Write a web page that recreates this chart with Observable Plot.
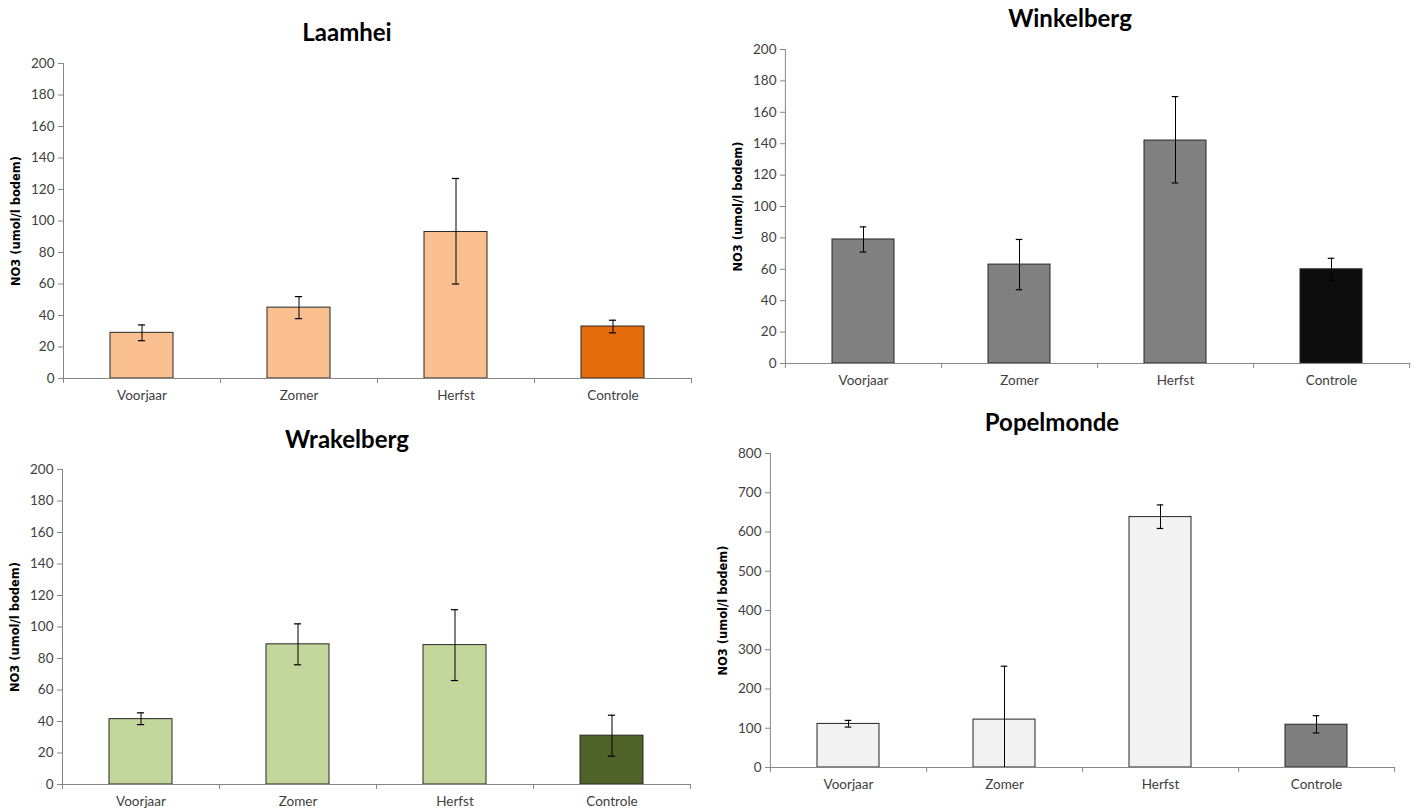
<!DOCTYPE html>
<html>
<head>
<meta charset="utf-8">
<script src="https://cdn.jsdelivr.net/npm/d3@7"></script>
<script src="https://cdn.jsdelivr.net/npm/@observablehq/plot@0.6"></script>
<style>
  html, body { margin: 0; padding: 0; background: #fff; }
  #root { position: relative; width: 1419px; height: 810px; overflow: hidden; background: #fff; }
  .panel { position: absolute; }
  .title { position: absolute; font-family: Lato, "Open Sans", sans-serif; font-weight: bold; font-size: 24px; color: #000; transform: translate(-50%, -50%); white-space: nowrap; }
</style>
</head>
<body>
<div id="root"></div>
<script>
// ---- data ----
const categories = ["Voorjaar", "Zomer", "Herfst", "Controle"];
const yLabel = "NO3 (umol/l bodem)";

const laamheiTitle = "Laamhei";
const laamheiValues = [29, 45, 93, 33];
const laamheiLow = [24, 38, 60, 29];
const laamheiHigh = [34, 52, 127, 37];
const laamheiTicks = [0, 20, 40, 60, 80, 100, 120, 140, 160, 180, 200];
const laamheiColors = ["#FAC090", "#FAC090", "#FAC090", "#E46C0A"];

const winkelbergTitle = "Winkelberg";
const winkelbergValues = [79, 63, 142, 60];
const winkelbergLow = [71, 47, 115, 53];
const winkelbergHigh = [87, 79, 170, 67];
const winkelbergTicks = [0, 20, 40, 60, 80, 100, 120, 140, 160, 180, 200];
const winkelbergColors = ["#808080", "#808080", "#808080", "#0D0D0D"];

const wrakelbergTitle = "Wrakelberg";
const wrakelbergValues = [41.5, 89, 88.5, 31];
const wrakelbergLow = [38, 76, 66, 18];
const wrakelbergHigh = [45.5, 102, 111, 44];
const wrakelbergTicks = [0, 20, 40, 60, 80, 100, 120, 140, 160, 180, 200];
const wrakelbergColors = ["#C3D69B", "#C3D69B", "#C3D69B", "#4F6228"];

const popelmondeTitle = "Popelmonde";
const popelmondeValues = [111, 122, 638, 109];
const popelmondeLow = [103, 0, 609, 88];
const popelmondeHigh = [120, 258, 669, 132];
const popelmondeTicks = [0, 100, 200, 300, 400, 500, 600, 700, 800];
const popelmondeColors = ["#F2F2F2", "#F2F2F2", "#F2F2F2", "#7F7F7F"];

// ---- layout ----
const panels = [
  {title: laamheiTitle, values: laamheiValues, low: laamheiLow, high: laamheiHigh, ticks: laamheiTicks, colors: laamheiColors,
   left: 0, top: 0, width: 705, height: 410, mt: 63, mb: 32, ml: 63, mr: 14, tx: 347, ty: 31},
  {title: winkelbergTitle, values: winkelbergValues, low: winkelbergLow, high: winkelbergHigh, ticks: winkelbergTicks, colors: winkelbergColors,
   left: 705, top: 0, width: 714, height: 400, mt: 49, mb: 37, ml: 80, mr: 9, tx: 1070, ty: 17},
  {title: wrakelbergTitle, values: wrakelbergValues, low: wrakelbergLow, high: wrakelbergHigh, ticks: wrakelbergTicks, colors: wrakelbergColors,
   left: 0, top: 410, width: 705, height: 400, mt: 59, mb: 26, ml: 62, mr: 15, tx: 347, ty: 438},
  {title: popelmondeTitle, values: popelmondeValues, low: popelmondeLow, high: popelmondeHigh, ticks: popelmondeTicks, colors: popelmondeColors,
   left: 705, top: 400, width: 714, height: 410, mt: 53, mb: 43, ml: 65, mr: 24, tx: 1052, ty: 421}
];

const root = document.getElementById("root");
const axisGrey = "#868686";
const textCol = "#404040";

for (const p of panels) {
  const data = categories.map((c, i) => ({cat: c, value: p.values[i], low: p.low[i], high: p.high[i], color: p.colors[i]}));
  const ymax = p.ticks[p.ticks.length - 1];
  const plotW = p.width - p.ml - p.mr;
  const step = plotW / categories.length;
  const bw = step * 0.4;
  const capInset = (bw - 7) / 2;
  const chart = Plot.plot({
    width: p.width,
    height: p.height,
    marginTop: p.mt,
    marginBottom: p.mb,
    marginLeft: p.ml,
    marginRight: p.mr,
    style: {fontFamily: "Lato, 'Open Sans', sans-serif", fontSize: "13.5px", color: textCol, background: "transparent", overflow: "visible"},
    x: {domain: categories, paddingInner: 0.6, paddingOuter: 0.3, label: null},
    y: {domain: [0, ymax], label: null},
    marks: [
      Plot.barY(data, {x: "cat", y: "value", fill: "color", stroke: "#262626", strokeWidth: 1}),
      Plot.ruleY([0], {stroke: axisGrey, strokeWidth: 1}),
      Plot.ruleX([categories[0]], {x: d => d, dx: -step / 2, y1: 0, y2: ymax, insetTop: 5, stroke: axisGrey}),
      Plot.ruleX(categories, {x: d => d, dx: step / 2, y1: 0, y2: 0, insetTop: 5, stroke: axisGrey}),
      Plot.ruleX(data, {x: "cat", y1: "low", y2: "high", stroke: "#000", strokeWidth: 1}),
      Plot.tickY(data, {x: "cat", y: "high", insetLeft: capInset, insetRight: capInset, stroke: "#000", strokeWidth: 1.2}),
      Plot.tickY(data.filter(d => d.low > 0), {x: "cat", y: "low", insetLeft: capInset, insetRight: capInset, stroke: "#000", strokeWidth: 1.2}),
      Plot.axisY({ticks: p.ticks, tickSize: 5, tickPadding: 4, stroke: axisGrey, fill: textCol, tickFormat: d => String(d),
        fontSize: 13.5, label: null}),
      Plot.axisY({ticks: [], tickSize: 0, label: yLabel, labelAnchor: "center", labelArrow: "none", labelOffset: 52,
        fontSize: 11.5, fontWeight: "bold", fontFamily: "'DejaVu Sans', Verdana, sans-serif", fill: "#000"}),
      Plot.axisX({tickSize: 0, tickPadding: 12, fill: textCol, fontSize: 13.5, label: null})
    ]
  });
  const wrap = document.createElement("div");
  wrap.className = "panel";
  wrap.style.left = p.left + "px";
  wrap.style.top = p.top + "px";
  wrap.appendChild(chart);
  root.appendChild(wrap);
  const t = document.createElement("div");
  t.className = "title";
  t.style.left = p.tx + "px";
  t.style.top = p.ty + "px";
  t.textContent = p.title;
  root.appendChild(t);
}
</script>
</body>
</html>
